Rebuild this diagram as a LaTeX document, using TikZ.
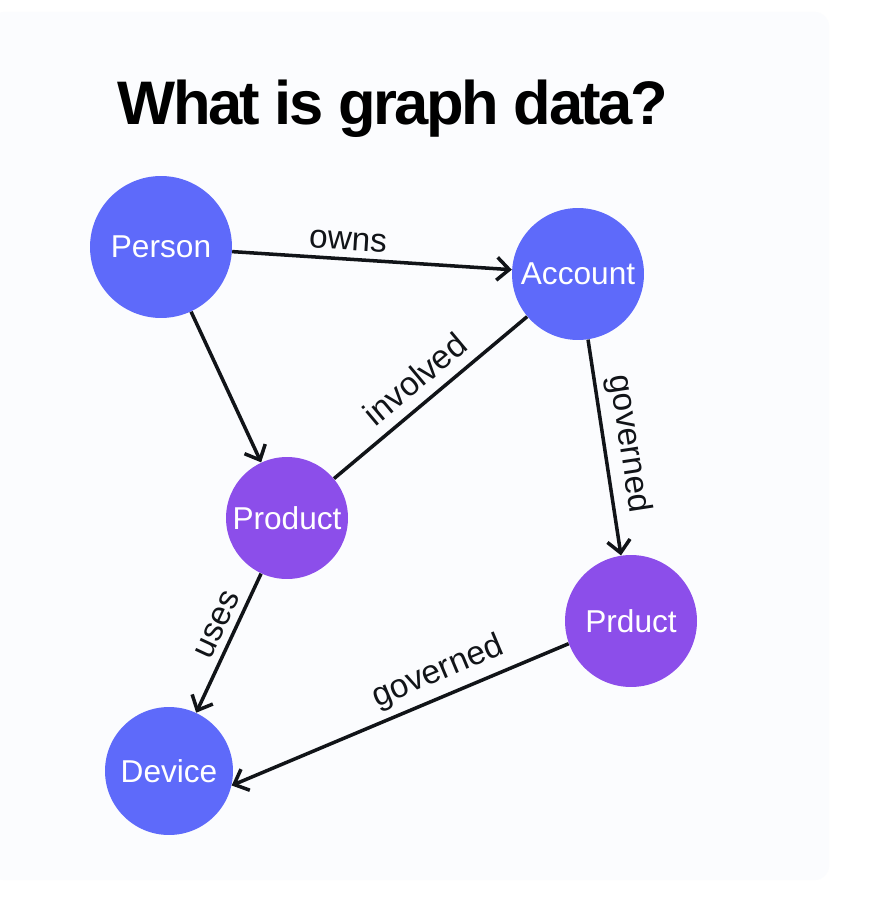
\documentclass[tikz,border=0pt]{standalone}
\usepackage{fontspec}
\setmainfont{Liberation Sans}
\newfontfamily\titlefont[LetterSpace=-4]{Liberation Sans}
\usetikzlibrary{arrows.meta}

\definecolor{nodeblue}{RGB}{94,106,250}
\definecolor{nodepurple}{RGB}{140,78,234}
\definecolor{panel}{RGB}{251,252,254}
\definecolor{ink}{RGB}{17,20,24}

\tikzset{
  entity/.style={circle, draw=none, text=white, inner sep=0pt, font=\fontsize{18}{20}\selectfont},
  rel/.style={draw=ink, line width=2pt, -{Straight Barb[length=7pt,width=13pt]}},
  link/.style={draw=ink, line width=2pt},
  rellabel/.style={font=\fontsize{19}{21}\selectfont, text=ink, sloped, above, inner sep=4pt}
}

\begin{document}
\begin{tikzpicture}[x=0.02cm, y=-0.02cm]
\useasboundingbox (0,0) rectangle (876,908);
\fill[white] (0,0) rectangle (876,908);
\fill[panel, rounded corners=8pt] (-10,12) rectangle (829,880);

% title
\node[anchor=base west, inner sep=0pt, font=\titlefont\bfseries\fontsize{35}{40}\selectfont] (title) at (117,125) {What is graph data?};

% entities
\node[entity, fill=nodeblue, minimum size=2.84cm] (person) at (161,247) {Person};
\node[entity, fill=nodeblue, minimum size=2.64cm] (account) at (578,274) {Account};
\node[entity, fill=nodepurple, minimum size=2.44cm] (product) at (287,518) {Product};
\node[entity, fill=nodepurple, minimum size=2.64cm] (prduct) at (631,621) {Prduct};
\node[entity, fill=nodeblue, minimum size=2.56cm] (device) at (169,771) {Device};

% relations
\draw[rel] (person) -- node[rellabel, pos=0.41] {owns} (account);
\draw[rel] (person) -- (product);
\draw[link] (product) -- node[rellabel, pos=0.5, inner sep=6pt] {involved} (account);
\draw[rel] (account) -- node[rellabel] {governed} (prduct);
\draw[rel] (product) -- node[rellabel, pos=0.42] {uses} (device);
\draw[rel] (prduct.200) -- node[rellabel, pos=0.36] {governed} (device.-13);
\end{tikzpicture}
\end{document}
